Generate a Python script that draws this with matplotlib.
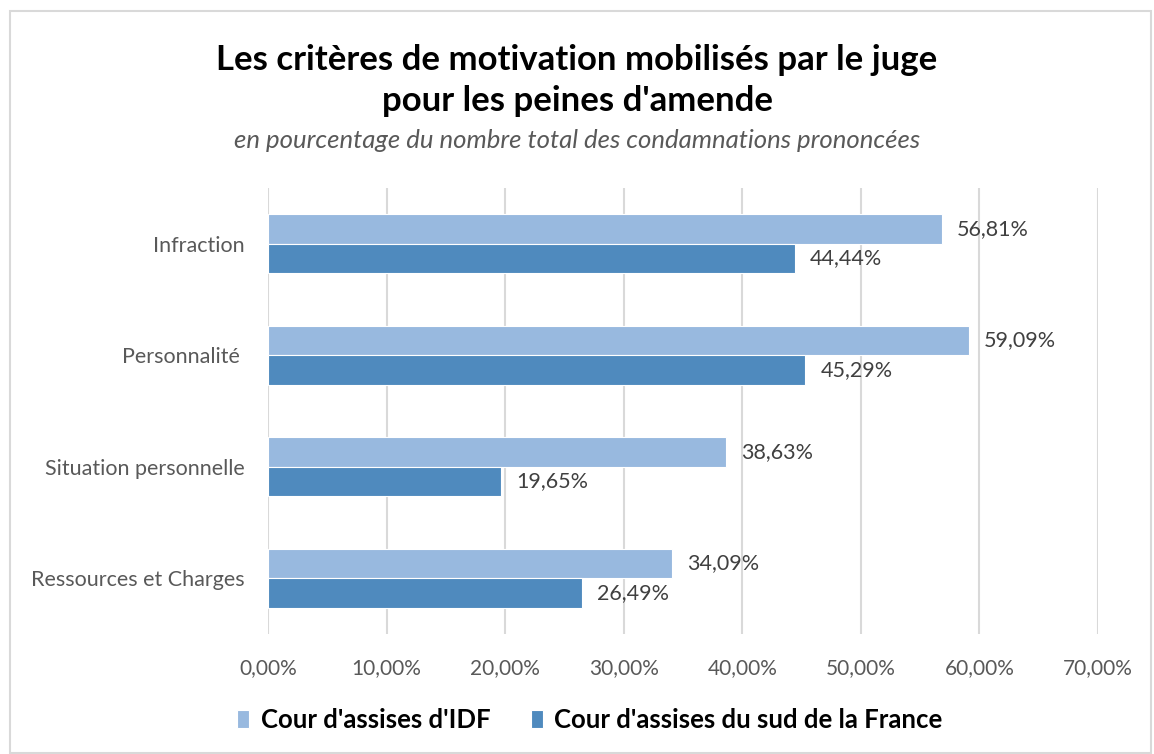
import matplotlib
matplotlib.use("Agg")
import matplotlib.pyplot as plt
from matplotlib.patches import Rectangle
import numpy as np

categories = ["Infraction", "Personnalité ", "Situation personnelle", "Ressources et Charges"]
series_names = ["Cour d'assises d'IDF", "Cour d'assises du sud de la France"]
idf = [56.81, 59.09, 38.63, 34.09]
sud = [44.44, 45.29, 19.65, 26.49]
xticks = [0, 10, 20, 30, 40, 50, 60, 70]

c_light = "#98B9DF"
c_dark = "#4F8ABE"
font = ["Lato", "DejaVu Sans"]
plt.rcParams["font.family"] = font

fig = plt.figure(figsize=(11.54, 7.54), dpi=100)
fig.patches.append(Rectangle((10/1154, 0.001), (1151-10)/1154, 1 - 11/754 - 0.001,
                             transform=fig.transFigure, fill=False,
                             edgecolor="#D9D9D9", linewidth=1.5))

ax = fig.add_axes([268/1154, 1 - 634/754, (1098-268)/1154, (634-188)/754])
y = np.arange(len(categories))
h = 0.265
ax.barh(y - h/2, idf, height=h, color=c_light, edgecolor="white", linewidth=0.8, label=series_names[0], zorder=3)
ax.barh(y + h/2, sud, height=h, color=c_dark, edgecolor="white", linewidth=0.8, label=series_names[1], zorder=3)

for yi, v in zip(y, idf):
    ax.annotate(f"{v:.2f}".replace(".", ",") + "%", (v, yi - h/2), xytext=(11, 0),
                textcoords="offset points", va="center", ha="left", fontsize=15.5, color="#404040")
for yi, v in zip(y, sud):
    ax.annotate(f"{v:.2f}".replace(".", ",") + "%", (v, yi + h/2), xytext=(11, 0),
                textcoords="offset points", va="center", ha="left", fontsize=15.5, color="#404040")

ax.set_xlim(0, 70)
ax.set_ylim(3.5, -0.5)
ax.set_xticks(xticks)
ax.set_xticklabels([f"{t:.2f}".replace(".", ",") + "%" for t in xticks], fontsize=15, color="#595959")
ax.set_yticks(y)
ax.set_yticklabels(categories, fontsize=15.5, color="#595959")
ax.tick_params(axis="both", length=0)
ax.tick_params(axis="x", pad=17)
ax.tick_params(axis="y", pad=16.5)
ax.grid(axis="x", color="#D9D9D9", linewidth=1.5, zorder=0)
for s in ["top", "right", "bottom", "left"]:
    ax.spines[s].set_visible(False)

fig.text(0.5, 1 - 60/754, "Les critères de motivation mobilisés par le juge", ha="center", va="center",
         fontsize=25, fontweight="bold", color="black")
fig.text(0.5, 1 - 101/754, "pour les peines d'amende", ha="center", va="center",
         fontsize=25, fontweight="bold", color="black")
fig.text(0.5, 1 - 141/754, "en pourcentage du nombre total des condamnations prononcées", ha="center",
         va="center", fontsize=18.5, fontstyle="italic", color="#595959")

leg = fig.legend(handles=[ax.patches[0], ax.patches[len(categories)]],
                 labels=series_names, loc="center", bbox_to_anchor=(590/1154, 1 - 720/754),
                 ncol=2, frameon=False, prop={"family": font, "weight": "bold", "size": 18.5},
                 handlelength=0.45, handleheight=0.65, handletextpad=0.45, columnspacing=1.6)

fig.savefig("out.png", dpi=100)
